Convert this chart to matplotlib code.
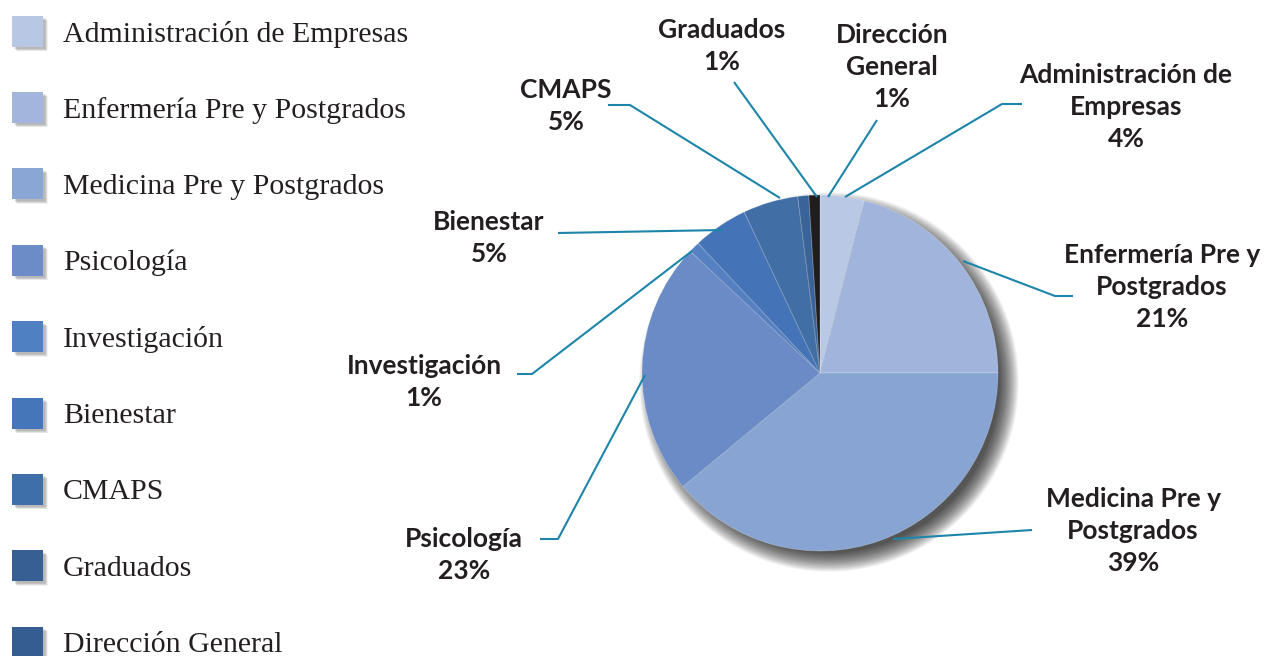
import matplotlib.pyplot as plt
from matplotlib.patches import Circle, Rectangle

# Data
categories = ["Administración de Empresas", "Enfermería Pre y Postgrados",
              "Medicina Pre y Postgrados", "Psicología", "Investigación",
              "Bienestar", "CMAPS", "Graduados", "Dirección General"]
values = [4, 21, 39, 23, 1, 5, 5, 1, 1]
slice_labels = ["Administración de\nEmpresas", "Enfermería Pre y\nPostgrados",
                "Medicina Pre y\nPostgrados", "Psicología", "Investigación",
                "Bienestar", "CMAPS", "Graduados", "Dirección\nGeneral"]
slice_colors = ["#b9c9e5", "#a1b5dc", "#87a4d3", "#6a8bc6", "#5580c2",
                "#4474b7", "#426ea6", "#3a6499", "#1f1d1e"]
legend_colors = ["#b8c8e4", "#a3b5dc", "#8aa6d4", "#6b8cc7", "#4f80c2",
                 "#4676ba", "#3e6fa8", "#385f94", "#365d92"]

W, H = 1268, 656
fig = plt.figure(figsize=(W / 100, H / 100), dpi=100)
ax = fig.add_axes([0, 0, 1, 1])

# flip image y to data y
def Y(y):
    return H - y

cx, cy, R = 820, Y(373), 178

# soft drop shadow behind the pie, offset to the lower right
n = 40
for k in range(n):
    r = R + 12 - k * 0.5
    ax.add_patch(Circle((cx + 9, cy - 9), r, color="black", alpha=0.025, lw=0, zorder=1))

wedges, _ = ax.pie(values, colors=slice_colors, startangle=90, counterclock=False,
                   center=(cx, cy), radius=R,
                   wedgeprops=dict(linewidth=0.6, edgecolor=(1, 1, 1, 0.25), zorder=2))

# label text: (x, y) centre of the text block in pixels
label_pos = [(1126, 107), (1162, 287), (1133, 531), (464, 555), (424, 382),
             (489, 238), (566, 106), (722, 46), (892, 67)]
for name, v, (x, y) in zip(slice_labels, values, label_pos):
    ax.text(x, Y(y), f"{name}\n{v}%", ha="center", va="center",
            fontsize=19, fontweight="bold", family="Lato", color="#231f20",
            linespacing=1.42, zorder=5)

# leader lines (pixel coords)
leaders = [
    [(1022, 104), (1002, 104), (845, 197)],
    [(1073, 296), (1055, 296), (963, 261)],
    [(1032, 530), (893, 539)],
    [(540, 539), (558, 539), (645, 375)],
    [(517, 374), (532, 374), (692, 251)],
    [(558, 233), (723, 230)],
    [(608, 105), (630, 105), (780, 198)],
    [(734, 82), (817, 197)],
    [(877, 120), (828, 197)],
]
for pts in leaders:
    xs = [p[0] for p in pts]
    ys = [Y(p[1]) for p in pts]
    ax.plot(xs, ys, color="#1d84aa", lw=1.5, solid_capstyle="butt", zorder=4)

# legend on the left, drawn by hand
for i, (cat, col) in enumerate(zip(categories, legend_colors)):
    yc = 31 + i * 76.4
    for k in range(6):
        ax.add_patch(Rectangle((12 + 2 + k * 0.5, Y(yc + 15.5 + 2 + k * 0.5)), 31, 31,
                               color="black", alpha=0.05, lw=0, zorder=2))
    ax.add_patch(Rectangle((12, Y(yc + 15.5)), 31, 31, color=col, lw=0, zorder=3))
    ax.text(63, Y(yc + 3), cat, ha="left", va="center", fontsize=21.5,
            family="Liberation Serif", color="#231f20", zorder=5)

ax.set_xlim(0, W)
ax.set_ylim(0, H)
ax.set_aspect("auto")
ax.axis("off")

fig.savefig("out.png", dpi=100)
